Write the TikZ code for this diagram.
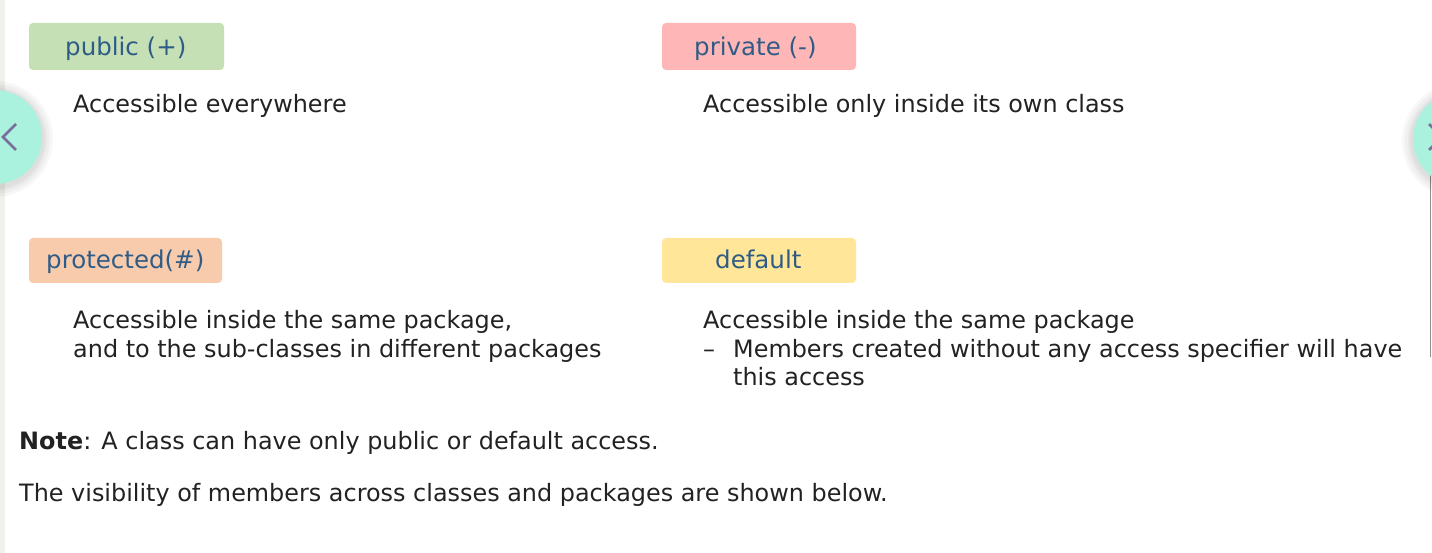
\documentclass[tikz,border=0pt]{standalone}
\usepackage{fontspec}
\setmainfont{DejaVu Sans}
\definecolor{txt}{HTML}{222222}
\definecolor{lbl}{HTML}{2F5C86}
\definecolor{cpub}{HTML}{C5E0B4}
\definecolor{cpri}{HTML}{FFB6B6}
\definecolor{cpro}{HTML}{F8CBAD}
\definecolor{cdef}{HTML}{FFE699}
\definecolor{mint}{HTML}{ABF2DE}
\definecolor{chev}{HTML}{7A6E9C}
\definecolor{strip}{HTML}{F1F1EC}
\begin{document}
\begin{tikzpicture}[x=1pt,y=-1pt,
  tag/.style={rounded corners=4pt, draw=none},
  lab/.style={text=lbl, font=\fontsize{24.5}{28}\selectfont, anchor=base west, inner sep=0pt},
  body/.style={text=txt, font=\fontsize{23.9}{29}\selectfont, anchor=base west, inner sep=0pt},
  navc/.style={fill=mint},
  navsh/.style={fill=black, opacity=0.03}]
\useasboundingbox (0,0) rectangle (1432,553);
\clip (0,0) rectangle (1432,553);
\fill[white] (0,0) rectangle (1432,553);
\fill[strip] (0,0) rectangle (5,553);
\draw[black!45, line width=0.8pt] (1430.6,170) -- (1430.6,357);
% tags
\fill[tag, cpub] (29,23) rectangle (224,70);
\fill[tag, cpri] (662,23) rectangle (856,70);
\fill[tag, cpro] (29,238) rectangle (222,283);
\fill[tag, cdef] (662,238) rectangle (856,283);
\node[lab] (pub) at (65,56) {public (+)};
\node[lab] (pri) at (694,56) {private (-)};
\node[lab] (pro) at (46,269) {protected(\#)};
\node[lab] (def) at (715,269) {default};
% descriptions
\node[body] (dpub) at (73,113) {Accessible everywhere};
\node[body] (dpri) at (703,113) {Accessible only inside its own class};
\node[body] (dpro) at (73,328) {Accessible inside the same package,};
\node[body] (dpro2) at (73,357) {and to the sub-classes in different packages};
\node[body] (ddef) at (703,328) {Accessible inside the same package};
\node[body] (dash) at (703,357) {--};
\node[body] (ddef2) at (733,357) {Members created without any access specifier will have};
\node[body] (ddef3) at (733,385) {this access};
\node[body] (note) at (19,449) {\textbf{Note}: A class can have only public or default access.};
\node[body] (vis) at (19,501) {The visibility of members across classes and packages are shown below.};
% nav circles
\foreach \r in {58,55,52,50} {\fill[navsh] (-5,139) circle (\r);}
\fill[navc] (-5,137) circle (47);
\draw[chev, line width=2.6pt] (16,124) -- (3,137) -- (16,150);
\foreach \r in {58,55,52,50} {\fill[navsh] (1460,141) circle (\r);}
\fill[navc] (1460,139) circle (47);
\draw[chev, line width=2.6pt] (1429,124) -- (1442,137) -- (1429,150);
\end{tikzpicture}
\end{document}
